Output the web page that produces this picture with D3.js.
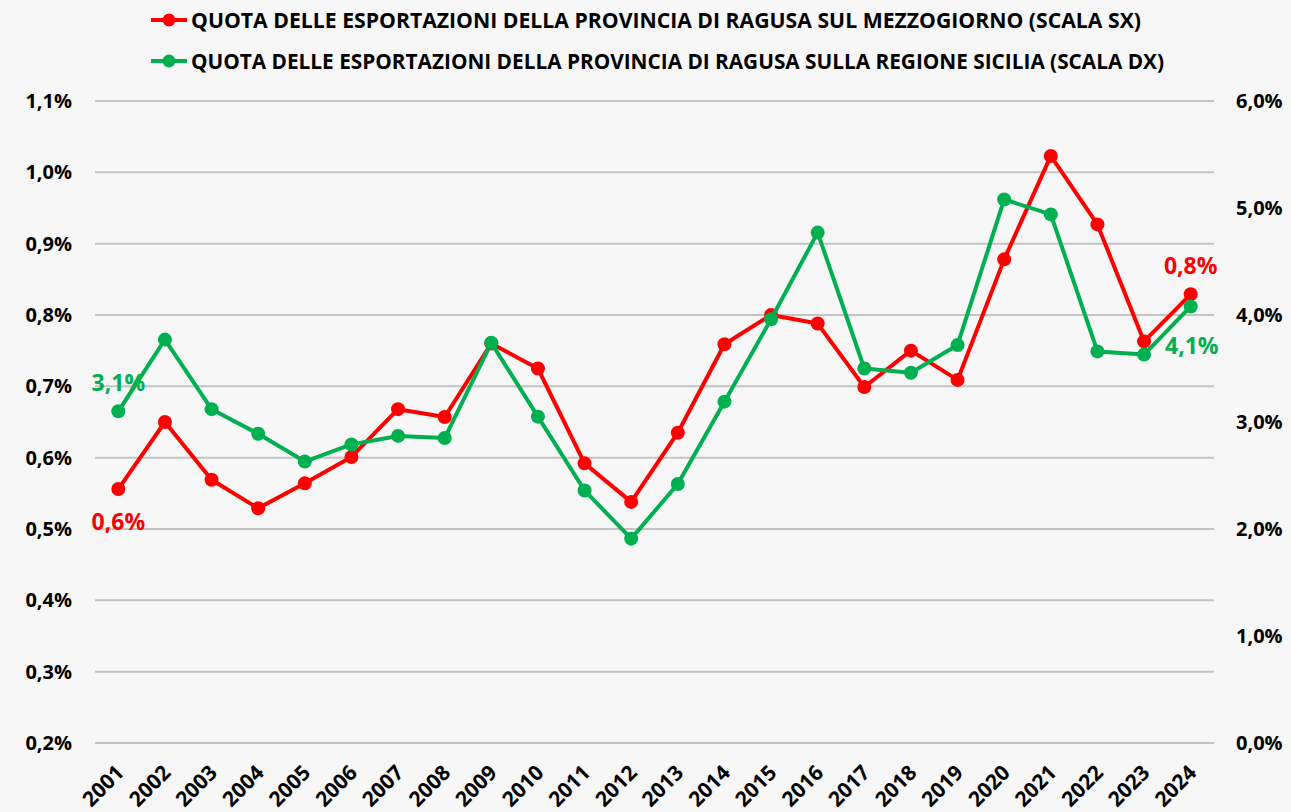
<!DOCTYPE html>
<html><head><meta charset="utf-8">
<script src="https://cdn.jsdelivr.net/npm/d3@7"></script>
<style>
html,body{margin:0;padding:0;background:#f7f7f7;}
svg{display:block;}
text{font-family:"Open Sans",sans-serif;font-weight:700;}
</style></head>
<body><svg id="c" width="1291" height="812"></svg>
<script>
const years = ["2001","2002","2003","2004","2005","2006","2007","2008","2009","2010","2011","2012","2013","2014","2015","2016","2017","2018","2019","2020","2021","2022","2023","2024"];
// Share of Ragusa exports on Mezzogiorno (%), left scale
const mezzogiorno = [0.556,0.650,0.569,0.529,0.564,0.601,0.668,0.657,0.760,0.725,0.592,0.538,0.635,0.759,0.800,0.788,0.699,0.750,0.709,0.878,1.023,0.927,0.763,0.829];
// Share of Ragusa exports on Sicily (%), right scale
const sicilia = [3.10,3.77,3.12,2.89,2.63,2.79,2.87,2.85,3.74,3.05,2.36,1.91,2.42,3.19,3.96,4.77,3.50,3.46,3.72,5.08,4.94,3.66,3.63,4.08];
const leftTicks = [0.2,0.3,0.4,0.5,0.6,0.7,0.8,0.9,1.0,1.1];
const rightTicks = [0,1,2,3,4,5,6];
const seriesNames = ["QUOTA DELLE ESPORTAZIONI DELLA PROVINCIA DI RAGUSA SUL MEZZOGIORNO (SCALA SX)",
                     "QUOTA DELLE ESPORTAZIONI DELLA PROVINCIA DI RAGUSA SULLA REGIONE SICILIA (SCALA DX)"];
const RED = "#ff0000", GREEN = "#00b050";

const svg = d3.select("#c");
svg.append("rect").attr("width",1291).attr("height",812).attr("fill","#f7f7f7");

const x = d3.scaleBand().domain(years).range([95,1214]);
const cx = d => x(d) + x.bandwidth()/2;
const yL = d3.scaleLinear().domain([0.2,1.1]).range([743,101]);
const yR = d3.scaleLinear().domain([0,6]).range([743,101]);
const fmt = d3.format(".1f");
const pct = v => fmt(v).replace(".", ",") + "%";

// gridlines
svg.append("g").selectAll("line").data(leftTicks).join("line")
  .attr("x1",95).attr("x2",1214)
  .attr("y1",d=>yL(d)).attr("y2",d=>yL(d))
  .attr("stroke","#c4c4c4").attr("stroke-width",2);

// left axis
const gl = svg.append("g").attr("transform","translate(72,0)")
  .call(d3.axisLeft(yL).tickValues(leftTicks).tickFormat(pct).tickSize(0).tickPadding(0));
gl.select(".domain").remove();
gl.selectAll("text").attr("font-size",20).attr("fill","#000").attr("font-family","Open Sans").attr("font-weight",700);

// right axis
const gr = svg.append("g").attr("transform","translate(1236,0)")
  .call(d3.axisRight(yR).tickValues(rightTicks).tickFormat(pct).tickSize(0).tickPadding(0));
gr.select(".domain").remove();
gr.selectAll("text").attr("font-size",20).attr("fill","#000").attr("font-family","Open Sans").attr("font-weight",700);

// x labels
svg.append("g").selectAll("text").data(years).join("text")
  .attr("transform",d=>`translate(${cx(d)+7},774) rotate(-45)`)
  .attr("text-anchor","end").attr("font-size",21).attr("fill","#000")
  .text(d=>d);

function series(vals, y, color){
  const line = d3.line().x((d,i)=>cx(years[i])).y(d=>y(d));
  svg.append("path").datum(vals).attr("d",line).attr("fill","none")
    .attr("stroke",color).attr("stroke-width",4).attr("stroke-linejoin","round");
  svg.append("g").selectAll("circle").data(vals).join("circle")
    .attr("cx",(d,i)=>cx(years[i])).attr("cy",d=>y(d)).attr("r",7).attr("fill",color);
}
series(mezzogiorno, yL, RED);
series(sicilia, yR, GREEN);

// data labels
const n = years.length-1;
svg.append("text").attr("x",cx(years[0])).attr("y",yL(mezzogiorno[0])+41)
  .attr("text-anchor","middle").attr("font-size",23).attr("fill",RED).text(pct(mezzogiorno[0]));
svg.append("text").attr("x",cx(years[0])).attr("y",yR(sicilia[0])-20)
  .attr("text-anchor","middle").attr("font-size",23).attr("fill",GREEN).text(pct(sicilia[0]));
svg.append("text").attr("x",cx(years[n])).attr("y",yL(mezzogiorno[n])-20)
  .attr("text-anchor","middle").attr("font-size",23).attr("fill",RED).text(pct(mezzogiorno[n]));
svg.append("text").attr("x",1165).attr("y",yR(sicilia[n])+48)
  .attr("text-anchor","start").attr("font-size",23).attr("fill",GREEN).text(pct(sicilia[n]));

// legend
const legY = [20,61], legColors=[RED,GREEN], legLen=[950,973];
seriesNames.forEach((name,i)=>{
  const g = svg.append("g");
  g.append("line").attr("x1",151).attr("x2",187).attr("y1",legY[i]).attr("y2",legY[i])
    .attr("stroke",legColors[i]).attr("stroke-width",4);
  g.append("circle").attr("cx",169).attr("cy",legY[i]).attr("r",6.5).attr("fill",legColors[i]);
  g.append("text").attr("x",191).attr("y",legY[i]+8).attr("font-size",21).attr("fill","#000")
    .attr("textLength",legLen[i]).attr("lengthAdjust","spacingAndGlyphs").text(name);
});
</script></body></html>
